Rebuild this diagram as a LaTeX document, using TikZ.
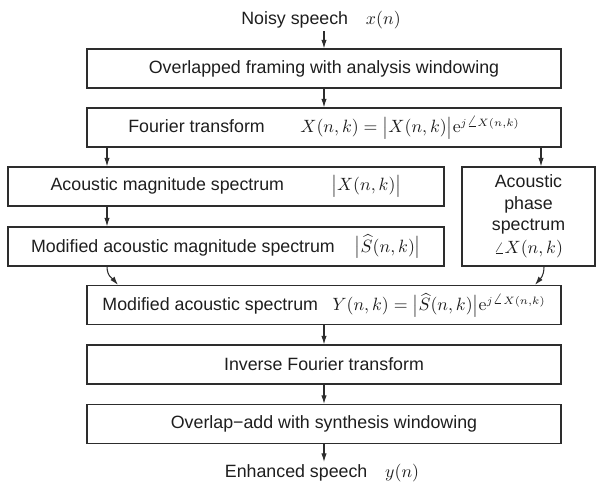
\documentclass[tikz,border=0pt]{standalone}
\usepackage{amsmath}
\usepackage[no-math]{fontspec}
\setmainfont{Liberation Sans}
\usetikzlibrary{arrows.meta}
\DeclareMathSizes{10}{10}{6.5}{5}
\newcommand\pxu{0.5618pt}
\definecolor{ink}{RGB}{30,30,30}
\definecolor{edge}{RGB}{45,45,45}
\begin{document}
\begin{tikzpicture}[x=0.5618pt,y=-0.5618pt,
  every node/.style={font=\normalsize, text=ink},
  box/.style={draw=edge, line width=0.6pt, minimum height=39*\pxu, inner sep=0pt},
  wide/.style={box, minimum width=474*\pxu},
  half/.style={box, minimum width=436*\pxu},
  arr/.style={draw=edge, line width=0.6pt, -{Latex[length=4.8pt,width=3pt]}}]
\useasboundingbox (0,0) rectangle (596,483);
% nodes
\node[inner sep=1pt] (noisy) at (321,20) {Noisy speech\quad $x(n)$};
\node[wide] (b1) at (324,68.5) {Overlapped framing with analysis windowing};
\node[wide] (b2) at (324,127.5)
  {Fourier transform\hspace{20pt}$X(n,k)=\bigl|X(n,k)\bigr|\mathrm{e}^{j\angle X(n,k)}$\hspace{2.8pt}};
\node[half] (mag) at (226,186.5)
  {Acoustic magnitude spectrum\hspace{26.4pt}$\bigl|X(n,k)\bigr|$};
\node[half] (mod) at (226,246.5)
  {Modified acoustic magnitude spectrum\hspace{11.2pt}$\bigl|\widehat{S}(n,k)\bigr|$};
\node[box, minimum width=133*\pxu, minimum height=99*\pxu, align=center] (phase) at (528.5,216.5)
  {Acoustic\\phase\\spectrum\\[1pt]$\angle X(n,k)$};
\node[wide] (Y) at (324,305)
  {Modified acoustic spectrum\hspace{8pt}$Y(n,k)=\bigl|\widehat{S}(n,k)\bigr|\mathrm{e}^{j\angle X(n,k)}$};
\node[wide] (ift) at (324,364.5) {Inverse Fourier transform};
\node[wide] (ola) at (324,424) {Overlap\textminus add with synthesis windowing};
\node[inner sep=1pt] (enh) at (322,473) {Enhanced speech\quad $y(n)$};
% helper x positions
\coordinate (xl) at (107,0);
\coordinate (xr) at (541,0);
\coordinate (yl) at (118,0);
\coordinate (xp) at (544,0);
\coordinate (yr) at (535,0);
% connectors
\draw[arr] (noisy.south -| b1.north) -- (b1.north);
\draw[arr] (b1) -- (b2);
\draw[arr] (b2.south -| xl) -- (mag.north -| xl);
\draw[arr] (b2.south -| xr) -- (phase.north -| xr);
\draw[arr] (mag.south -| xl) -- (mod.north -| xl);
\draw[arr] (mod.south -| xl) .. controls +(0,10) and +(-5,-6) .. (Y.north -| yl);
\draw[arr] (phase.south -| xp) .. controls +(0,10) and +(5,-6) .. (Y.north -| yr);
\draw[arr] (Y) -- (ift);
\draw[arr] (ift) -- (ola);
\draw[arr] (ola.south) -- (enh.north -| ola.south);
\end{tikzpicture}
\end{document}
